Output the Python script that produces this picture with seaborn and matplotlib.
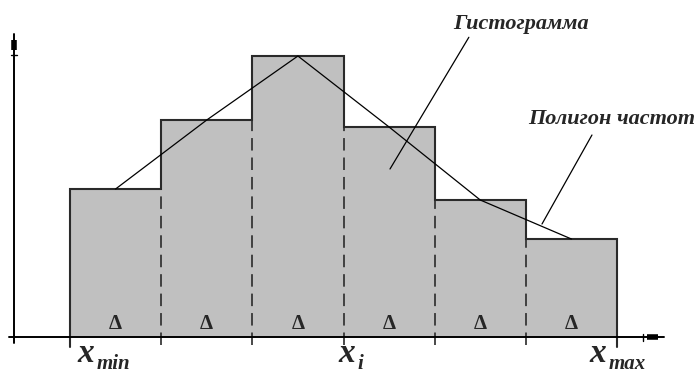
import numpy as np
import pandas as pd
import matplotlib
matplotlib.use("Agg")
import matplotlib.pyplot as plt
import matplotlib.transforms as mtransforms
import seaborn as sns

# Interval edges (x_min .. x_max) and frequencies of each interval
edges = [0, 1, 2, 3, 4, 5, 6]
freqs = [14.8, 21.7, 28.1, 21.0, 13.7, 9.8]
bin_label = "Δ"
x_subs = ["min", "i", "max"]
title_hist = "Гистограмма"
title_poly = "Полигон частот"

centers = [(a + b) / 2 for a, b in zip(edges[:-1], edges[1:])]
df = pd.DataFrame({"x": centers, "freq": freqs})

sns.set_theme(style="white")
plt.rcParams["font.family"] = ["Liberation Serif", "DejaVu Serif"]
plt.rcParams["lines.scale_dashes"] = False

fig = plt.figure(figsize=(6.97, 3.76), dpi=100)
ax = fig.add_axes([0, 0, 1, 1])
px = (edges[-1] - edges[0]) / 547.0  # data units per pixel horizontally
ax.set_xlim(-70 * px, 627 * px)
ax.set_ylim(-3.9, 33.7)
ax.axis("off")

fill = "#c0c0c0"
edge = "#2a2a2a"

# Histogram bars (fill only)
sns.histplot(data=df, x="x", weights="freq", bins=edges, stat="count",
             element="bars", color=fill, alpha=1, linewidth=0, ax=ax, zorder=1)

# Outer step outline of the histogram
ax.stairs(freqs, edges, baseline=0, fill=False, color=edge, lw=1.5, zorder=3)

# Dashed interior boundaries below the lower of two neighbouring bars
for k in range(1, len(edges) - 1):
    low = min(freqs[k - 1], freqs[k])
    ax.plot([edges[k], edges[k]], [-0.8, low], color=edge, lw=1.2,
            linestyle=(0, (9, 5)), zorder=3)

# Solid ticks at x_min and x_max
for xe in (edges[0], edges[-1]):
    ax.plot([xe, xe], [-1.0, 0], color=edge, lw=1.5, zorder=3)

# Frequency polygon
sns.lineplot(data=df, x="x", y="freq", color="black", lw=0.9, ax=ax, zorder=4)
ax.set_xlabel("")
ax.set_ylabel("")

# Coordinate axes with arrow heads
x0 = -56 * px
ax.plot([-61 * px, 594 * px], [0, 0], color="black", lw=1.4, zorder=5)
ax.plot([577 * px, 588 * px], [0, 0], color="black", lw=4, solid_capstyle="butt", zorder=5)
ax.plot([573 * px, 573 * px], [-0.35, 0.35], color="black", lw=1.0, zorder=5)
ax.plot([x0, x0], [-0.6, 30.3], color="black", lw=1.4, zorder=5)
ax.plot([x0, x0], [28.7, 29.7], color="black", lw=4, solid_capstyle="butt", zorder=5)
ax.plot([x0 - 3 * px, x0 + 3 * px], [28.2, 28.2], color="black", lw=1.0, zorder=5)

# Interval width markers
for c in centers:
    ax.text(c, 0.8, bin_label, ha="center", va="baseline", fontsize=15,
            fontweight="bold", zorder=6)

# Labels under the x axis: italic x with a lowered subscript
label_style = dict(fontweight="bold", fontstyle="italic", va="baseline", ha="left", zorder=6)
for xl, sub in zip([7 * px, 268 * px, 519 * px], x_subs):
    ax.text(xl, -2.45, "x", fontsize=24, **label_style)
    sub_tr = mtransforms.offset_copy(ax.transData, fig=fig, x=14, y=-5.5, units="points")
    ax.text(xl, -2.45, sub, fontsize=15, transform=sub_tr, **label_style)

# Callouts
ax.annotate(title_hist, xy=(320 * px, 16.8), xytext=(451 * px, 30.8),
            ha="center", va="baseline", fontsize=16, fontweight="bold",
            fontstyle="italic", zorder=6,
            arrowprops=dict(arrowstyle="-", color="black", lw=0.9,
                            shrinkA=0, shrinkB=0, relpos=(0.13, 0)))
ax.annotate(title_poly, xy=(472 * px, 11.3), xytext=(542 * px, 21.3),
            ha="center", va="baseline", fontsize=16, fontweight="bold",
            fontstyle="italic", zorder=6,
            arrowprops=dict(arrowstyle="-", color="black", lw=0.9,
                            shrinkA=0, shrinkB=0, relpos=(0.38, -0.3)))

fig.savefig("out.png", dpi=100, facecolor="white")
